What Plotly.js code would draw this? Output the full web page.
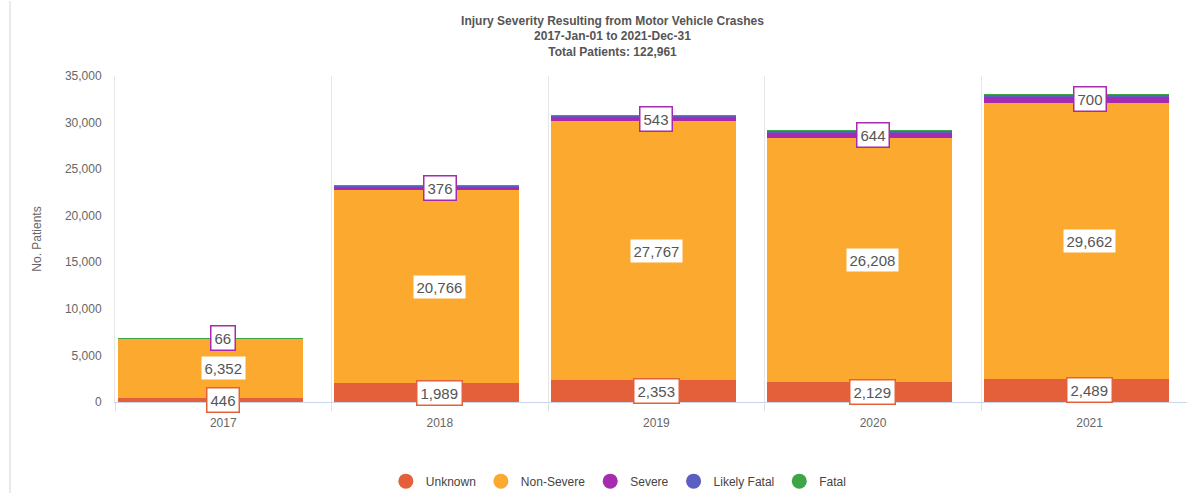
<!DOCTYPE html>
<html>
<head>
<meta charset="utf-8">
<script src="https://cdn.plot.ly/plotly-3.0.1.min.js"></script>
<style>html,body{margin:0;padding:0;background:#fff;}#chart{width:1187px;height:493px;}</style>
</head>
<body>
<div id="chart"></div>
<script>
const years = ['2017', '2018', '2019', '2020', '2021'];
const unknown = [446, 1989, 2353, 2129, 2489];
const nonSevere = [6352, 20766, 27767, 26208, 29662];
const severe = [66, 376, 543, 644, 700];
const likelyFatal = [5, 70, 110, 115, 140];
const fatal = [1, 5, 8, 8, 9];
const seriesNames = ['Unknown', 'Non-Severe', 'Severe', 'Likely Fatal', 'Fatal'];
const seriesColors = ['#E4603B', '#FBA92F', '#A72BAE', '#5B5FC2', '#3DA547'];
const labelled = [true, true, true, false, false];

function fmt(v) { return String(v).replace(/\B(?=(\d{3})+(?!\d))/g, ','); }

const seriesData = [unknown, nonSevere, severe, likelyFatal, fatal];
const traces = [];
const annotations = [];
const base = years.map(() => 0);
seriesData.forEach((vals, i) => {
  traces.push({
    type: 'bar', x: years, y: vals, name: seriesNames[i],
    marker: {color: seriesColors[i], line: {width: 0}},
    width: 0.855, offset: -0.488,
    showlegend: false, legendgroup: seriesNames[i]
  });
  vals.forEach((v, j) => {
    if (labelled[i]) {
      annotations.push({
        x: j, y: base[j] + v / 2, xref: 'x', yref: 'y',
        text: fmt(v), showarrow: false,
        font: {family: 'Liberation Sans, Arial, sans-serif', size: 15, color: '#555'},
        bgcolor: '#ffffff', bordercolor: seriesColors[i], borderwidth: 1.5, borderpad: 3
      });
    }
    base[j] += v;
  });
  traces.push({
    type: 'scatter', mode: 'markers', x: [null], y: [null], name: seriesNames[i],
    marker: {color: seriesColors[i], size: 15, symbol: 'circle'},
    legendgroup: seriesNames[i], showlegend: true
  });
});

const layout = {
  width: 1187, height: 493,
  margin: {l: 115, r: 0, t: 76, b: 91, autoexpand: false},
  paper_bgcolor: '#fff', plot_bgcolor: '#fff',
  barmode: 'stack',
  font: {family: 'Liberation Sans, Arial, sans-serif', color: '#666'},
  title: {
    text: '<b>Injury Severity Resulting from Motor Vehicle Crashes<br>2017-Jan-01 to 2021-Dec-31<br>Total Patients: 122,961</b>',
    x: 0.516, xanchor: 'center', y: 0.95, yanchor: 'top',
    font: {family: 'Liberation Sans Narrow, Liberation Sans, Arial, sans-serif', size: 12, color: '#555'}
  },
  xaxis: {
    type: 'category', range: [-0.5, 4.45], automargin: false,
    tickson: 'boundaries', ticks: 'outside', ticklen: 8, tickcolor: '#e0e0e0',
    showgrid: true, gridcolor: '#e6e6e6', gridwidth: 1,
    showline: true, linecolor: '#ccd6eb', linewidth: 1,
    ticklabelstandoff: 10,
    tickfont: {size: 12, color: '#666'}
  },
  yaxis: {
    range: [0, 35000], tickvals: [0, 5000, 10000, 15000, 20000, 25000, 30000, 35000],
    tickformat: ',d', showgrid: false, zeroline: false, automargin: false,
    showline: true, linecolor: '#e6e6e6',
    ticks: '', ticklabelstandoff: 10,
    tickfont: {size: 12, color: '#666'},
    title: {text: 'No. Patients', font: {size: 12, color: '#666'}, standoff: 20}
  },
  legend: {
    orientation: 'h', x: 0.47, xanchor: 'center',
    yref: 'container', y: 0.024, yanchor: 'middle',
    font: {size: 12, color: '#444'}, itemwidth: 30, tracegroupgap: 0
  },
  annotations: annotations,
  shapes: [
    {type: 'line', xref: 'paper', yref: 'paper', x0: -0.098, x1: -0.098, y0: -0.28, y1: 1.23, line: {color: '#e3e3e3', width: 1.5}}
  ]
};

Plotly.newPlot('chart', traces, layout, {displayModeBar: false});
</script>
</body>
</html>
